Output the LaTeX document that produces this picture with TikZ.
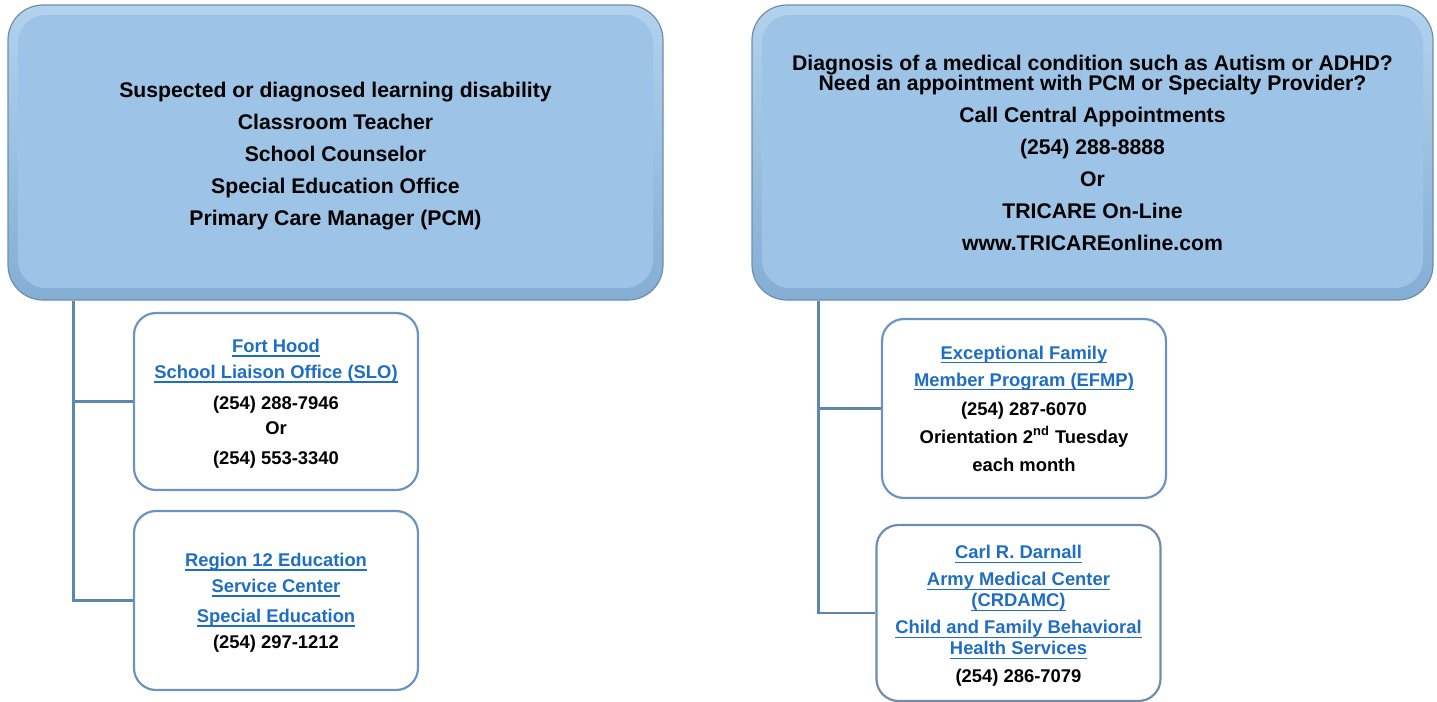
\documentclass[tikz,border=0pt]{standalone}
\usepackage{fontspec}
\setmainfont{Liberation Sans}
\usetikzlibrary{positioning}

\definecolor{boxface}{RGB}{157,195,230}
\definecolor{rimtop}{RGB}{178,210,238}
\definecolor{rimbot}{RGB}{132,174,212}
\definecolor{boxedge}{RGB}{112,142,172}
\definecolor{linkblue}{RGB}{31,110,196}
\definecolor{connblue}{RGB}{94,135,174}
\definecolor{smalledge}{RGB}{108,148,192}

\newsavebox{\lnkbox}
\newcommand{\lnk}[1]{\textcolor{linkblue}{\sbox{\lnkbox}{#1}%
  \rlap{\vrule width\wd\lnkbox height -1.4pt depth 2.1pt}\usebox{\lnkbox}}}

\begin{document}
\begin{tikzpicture}[x=0.5pt,y=-0.5pt,
  bigbox/.style={rectangle,rounded corners=17.5pt,draw=boxedge,line width=0.6pt,
    top color=rimtop,bottom color=rimbot,align=center,inner sep=0pt,
    font=\fontsize{10.6}{16}\selectfont\bfseries,
    path picture={\fill[boxface,rounded corners=14pt]
      ([shift={(5pt,-5pt)}]path picture bounding box.north west) rectangle
      ([shift={(-5pt,6pt)}]path picture bounding box.south east);}},
  smallbox/.style={rectangle,rounded corners=11pt,draw=smalledge,line width=1.1pt,
    fill=white,minimum width=142pt,minimum height=88.5pt,align=center,inner sep=0pt,
    font=\fontsize{9.2}{10.5}\selectfont\bfseries},
  conn/.style={draw=connblue,line width=1.2pt}]
\useasboundingbox (0,0) rectangle (1437,702);

% top boxes
\node[bigbox,minimum width=327.5pt,minimum height=147.5pt] (lbig) at (335.5,152.5)
  {\rule{0pt}{10.8pt}Suspected or diagnosed learning disability\\Classroom Teacher\\School Counselor\\
   Special Education Office\\Primary Care Manager (PCM)};
\node[bigbox,minimum width=340.5pt,minimum height=147.5pt,
  font=\fontsize{10.6}{10}\selectfont\bfseries] (rbig) at (1092.5,152.5)
  {Diagnosis of a medical condition such as Autism or ADHD?\\
   Need an appointment with PCM or Specialty Provider?\\[6pt]
   Call Central Appointments\\[6pt](254) 288-8888\\[6pt]Or\\[6pt]
   TRICARE On-Line\\[6pt]www.TRICAREonline.com};

% left column
\node[smallbox] (lslo) at (276,401.5)
  {\rule{0pt}{8.8pt}\lnk{Fort Hood}\\[2.5pt]\lnk{School Liaison Office (SLO)}\\[5pt]
   (254) 288-7946\\[2pt]Or\\[4.5pt](254) 553-3340};
\node[smallbox,minimum height=89.5pt] (lreg) at (276,600.5)
  {\rule{0pt}{8.8pt}\lnk{Region 12 Education}\\[2.5pt]\lnk{Service Center}\\[4.5pt]
   \lnk{Special Education}\\[2.5pt](254) 297-1212};

% right column
\node[smallbox,minimum height=89.5pt] (refmp) at (1024,408.5)
  {\lnk{Exceptional Family}\\[3pt]\lnk{Member Program (EFMP)}\\[4pt]
   (254) 287-6070\\[3.5pt]Orientation 2\textsuperscript{nd} Tuesday\\[3.5pt]each month};
\node[smallbox,minimum height=88pt,draw=boxedge] (rcrd) at (1018.5,613)
  {\rule{0pt}{9.8pt}\lnk{Carl R. Darnall}\\[3pt]\lnk{Army Medical Center}\\
   \lnk{(CRDAMC)}\\[3pt]\lnk{Child and Family Behavioral}\\
   \lnk{Health Services}\\[3.5pt](254) 286-7079};

% connectors
\coordinate (ltrunk) at ([xshift=33pt]lbig.south west);
\draw[conn] (ltrunk) |- (lreg.west);
\draw[conn] (ltrunk |- lslo.west) -- (lslo.west);
\coordinate (rtrunk) at ([xshift=33.5pt]rbig.south west);
\draw[conn] (rtrunk) |- (rcrd.west);
\draw[conn] (rtrunk |- refmp.west) -- (refmp.west);
\end{tikzpicture}
\end{document}
